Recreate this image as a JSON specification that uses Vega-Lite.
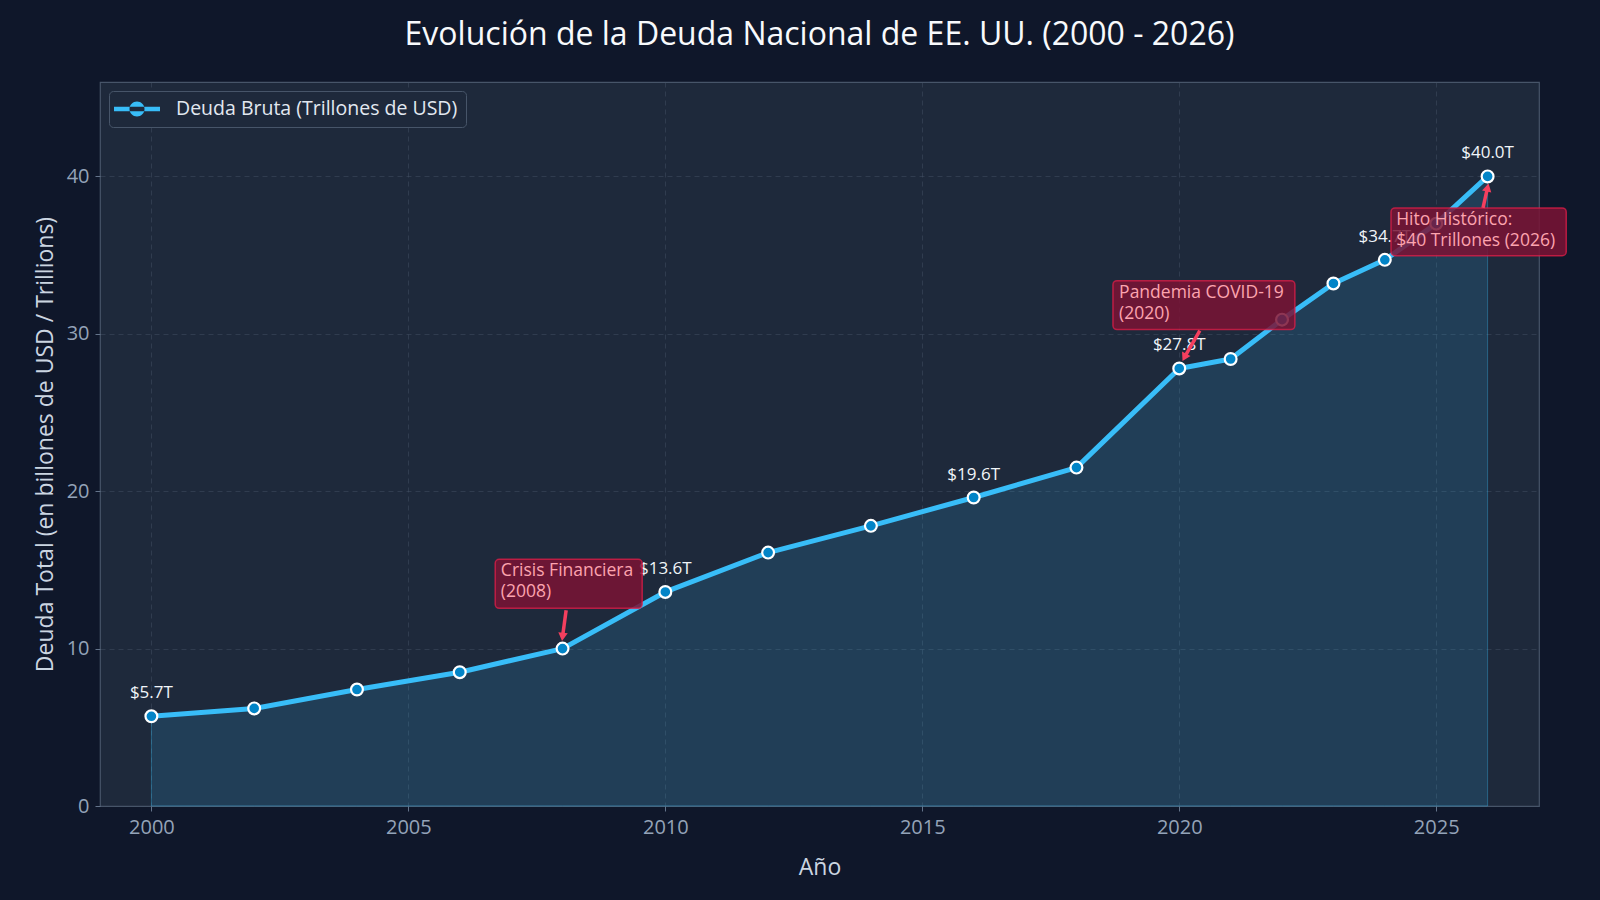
{
  "$schema": "https://vega.github.io/schema/vega-lite/v6.json",
  "width": 1439,
  "height": 724,
  "autosize": {"type": "none"},
  "padding": {"left": 100, "top": 82, "right": 61, "bottom": 94},
  "background": "#0f172a",
  "config": {
    "font": "Open Sans",
    "view": {"fill": "#1e293b", "stroke": "#475569", "strokeWidth": 1.2},
    "axis": {
      "labelColor": "#94a3b8",
      "labelFontSize": 20,
      "titleColor": "#cbd5e1",
      "titleFontSize": 23,
      "titleFontWeight": "normal",
      "gridColor": "#475569",
      "gridOpacity": 0.45,
      "gridDash": [5, 4],
      "tickColor": "#64748b",
      "tickSize": 5,
      "labelPadding": 6,
      "domain": false
    }
  },
  "title": {
    "text": "Evolución de la Deuda Nacional de EE. UU. (2000 - 2026)",
    "fontSize": 32,
    "fontWeight": "normal",
    "color": "#f8fafc",
    "offset": 30,
    "anchor": "middle"
  },
  "datasets": {
    "debt": [
      {"year": 2000, "debt": 5.7},
      {"year": 2002, "debt": 6.2},
      {"year": 2004, "debt": 7.4},
      {"year": 2006, "debt": 8.5},
      {"year": 2008, "debt": 10.0},
      {"year": 2010, "debt": 13.6},
      {"year": 2012, "debt": 16.1},
      {"year": 2014, "debt": 17.8},
      {"year": 2016, "debt": 19.6},
      {"year": 2018, "debt": 21.5},
      {"year": 2020, "debt": 27.8},
      {"year": 2021, "debt": 28.4},
      {"year": 2022, "debt": 30.9},
      {"year": 2023, "debt": 33.2},
      {"year": 2024, "debt": 34.7},
      {"year": 2025, "debt": 37.0},
      {"year": 2026, "debt": 40.0}
    ],
    "notes": [
      {"event": "Crisis Financiera\n(2008)", "year": 2008, "debt": 10.0, "tx": 2006.8, "ty": 15.5, "bx1": 2006.69, "bx2": 2009.55, "by1": 12.56, "by2": 15.67, "ax": 2008.07, "ay": 12.44, "hx": 2008.0, "hy": 10.75},
      {"event": "Pandemia COVID-19\n(2020)", "year": 2020, "debt": 27.8, "tx": 2018.83, "ty": 33.15, "bx1": 2018.71, "bx2": 2022.25, "by1": 30.27, "by2": 33.38, "ax": 2020.4, "ay": 30.2, "hx": 2020.1, "hy": 28.5},
      {"event": "Hito Histórico:\n$40 Trillones (2026)", "year": 2026, "debt": 40.0, "tx": 2024.22, "ty": 37.8, "bx1": 2024.12, "bx2": 2027.53, "by1": 34.96, "by2": 38.0, "ax": 2025.91, "ay": 38.0, "hx": 2026.0, "hy": 39.3}
    ]
  },
  "layer": [
    {
      "data": {"name": "debt"},
      "mark": {"type": "area", "fill": "#38bdf8", "fillOpacity": 0.15, "stroke": "#38bdf8", "strokeOpacity": 0.35, "strokeWidth": 1},
      "encoding": {
        "x": {"field": "year", "type": "quantitative", "scale": {"domain": [1999, 2027], "nice": false}, "title": "Año",
              "axis": {"values": [2000, 2005, 2010, 2015, 2020, 2025], "format": "d", "titlePadding": 19}},
        "y": {"field": "debt", "type": "quantitative", "scale": {"domain": [0, 46], "nice": false}, "title": "Deuda Total (en billones de USD / Trillions)",
              "axis": {"values": [0, 10, 20, 30, 40], "titlePadding": 9}}
      }
    },
    {
      "data": {"name": "debt"},
      "mark": {"type": "line", "strokeWidth": 5, "strokeCap": "round", "strokeJoin": "round"},
      "encoding": {
        "x": {"field": "year", "type": "quantitative", "title": "Año"},
        "y": {"field": "debt", "type": "quantitative", "title": "Deuda Total (en billones de USD / Trillions)"},
        "color": {
          "datum": "Deuda Bruta (Trillones de USD)",
          "type": "nominal",
          "scale": {"range": ["#38bdf8"]},
          "legend": {
            "title": null,
            "orient": "top-left",
            "offset": 9,
            "padding": 8,
            "fillColor": "#1e293b",
            "strokeColor": "#475569",
            "cornerRadius": 4,
            "labelFontSize": 19.5,
            "labelColor": "#e2e8f0",
            "labelLimit": 0,
            "labelOffset": 29,
            "symbolType": "M -2.3 -0.22 L 2.3 -0.22 L 2.3 0.22 L -2.3 0.22 Z M 0.75 0 A 0.75 0.75 0 1 0 -0.75 0 A 0.75 0.75 0 1 0 0.75 0 Z",
            "symbolSize": 400,
            "symbolOffset": 10,
            "symbolFillColor": "#38bdf8",
            "symbolStrokeWidth": 0,
            "symbolOpacity": 1
          }
        }
      }
    },
    {
      "data": {"name": "debt"},
      "mark": {"type": "point", "shape": "circle", "filled": true, "fill": "#0284c7", "stroke": "#ffffff", "strokeWidth": 2.2, "size": 140, "opacity": 1},
      "encoding": {
        "x": {"field": "year", "type": "quantitative", "title": "Año"},
        "y": {"field": "debt", "type": "quantitative", "title": "Deuda Total (en billones de USD / Trillions)"}
      }
    },
    {
      "data": {"name": "debt"},
      "transform": [
        {"filter": {"field": "year", "oneOf": [2000, 2010, 2016, 2020, 2024, 2026]}},
        {"calculate": "'$' + format(datum.debt, '.1f') + 'T'", "as": "label"}
      ],
      "mark": {"type": "text", "dy": -23, "fontSize": 17, "color": "#f1f5f9", "baseline": "middle", "align": "center"},
      "encoding": {
        "x": {"field": "year", "type": "quantitative", "title": "Año"},
        "y": {"field": "debt", "type": "quantitative", "title": "Deuda Total (en billones de USD / Trillions)"},
        "text": {"field": "label"}
      }
    },
    {
      "data": {"name": "notes"},
      "mark": {"type": "rect", "fill": "#7a1335", "fillOpacity": 0.85, "stroke": "#e11d48", "strokeOpacity": 0.75, "strokeWidth": 1.5, "cornerRadius": 4},
      "encoding": {
        "x": {"field": "bx1", "type": "quantitative", "title": "Año"},
        "x2": {"field": "bx2"},
        "y": {"field": "by1", "type": "quantitative", "title": "Deuda Total (en billones de USD / Trillions)"},
        "y2": {"field": "by2"}
      }
    },
    {
      "data": {"name": "notes"},
      "mark": {"type": "text", "align": "left", "baseline": "top", "fontSize": 17.5, "lineHeight": 20.5, "lineBreak": "\n", "color": "#fda4af"},
      "encoding": {
        "x": {"field": "tx", "type": "quantitative", "title": "Año"},
        "y": {"field": "ty", "type": "quantitative", "title": "Deuda Total (en billones de USD / Trillions)"},
        "text": {"field": "event"}
      }
    },
    {
      "data": {"name": "notes"},
      "mark": {"type": "rule", "color": "#f43f5e", "strokeWidth": 3.5},
      "encoding": {
        "x": {"field": "ax", "type": "quantitative", "title": "Año"},
        "y": {"field": "ay", "type": "quantitative", "title": "Deuda Total (en billones de USD / Trillions)"},
        "x2": {"field": "hx"},
        "y2": {"field": "hy"}
      }
    },
    {
      "data": {"name": "notes"},
      "transform": [{"filter": "datum.year == 2008"}],
      "mark": {"type": "point", "shape": "triangle-down", "filled": true, "color": "#f43f5e", "opacity": 1, "size": 90, "angle": 7},
      "encoding": {
        "x": {"field": "hx", "type": "quantitative", "title": "Año"},
        "y": {"field": "hy", "type": "quantitative", "title": "Deuda Total (en billones de USD / Trillions)"}
      }
    },
    {
      "data": {"name": "notes"},
      "transform": [{"filter": "datum.year == 2020"}],
      "mark": {"type": "point", "shape": "triangle-down", "filled": true, "color": "#f43f5e", "opacity": 1, "size": 90, "angle": 27},
      "encoding": {
        "x": {"field": "hx", "type": "quantitative", "title": "Año"},
        "y": {"field": "hy", "type": "quantitative", "title": "Deuda Total (en billones de USD / Trillions)"}
      }
    },
    {
      "data": {"name": "notes"},
      "transform": [{"filter": "datum.year == 2026"}],
      "mark": {"type": "point", "shape": "triangle-up", "filled": true, "color": "#f43f5e", "opacity": 1, "size": 90, "angle": 13},
      "encoding": {
        "x": {"field": "hx", "type": "quantitative", "title": "Año"},
        "y": {"field": "hy", "type": "quantitative", "title": "Deuda Total (en billones de USD / Trillions)"}
      }
    }
  ]
}
